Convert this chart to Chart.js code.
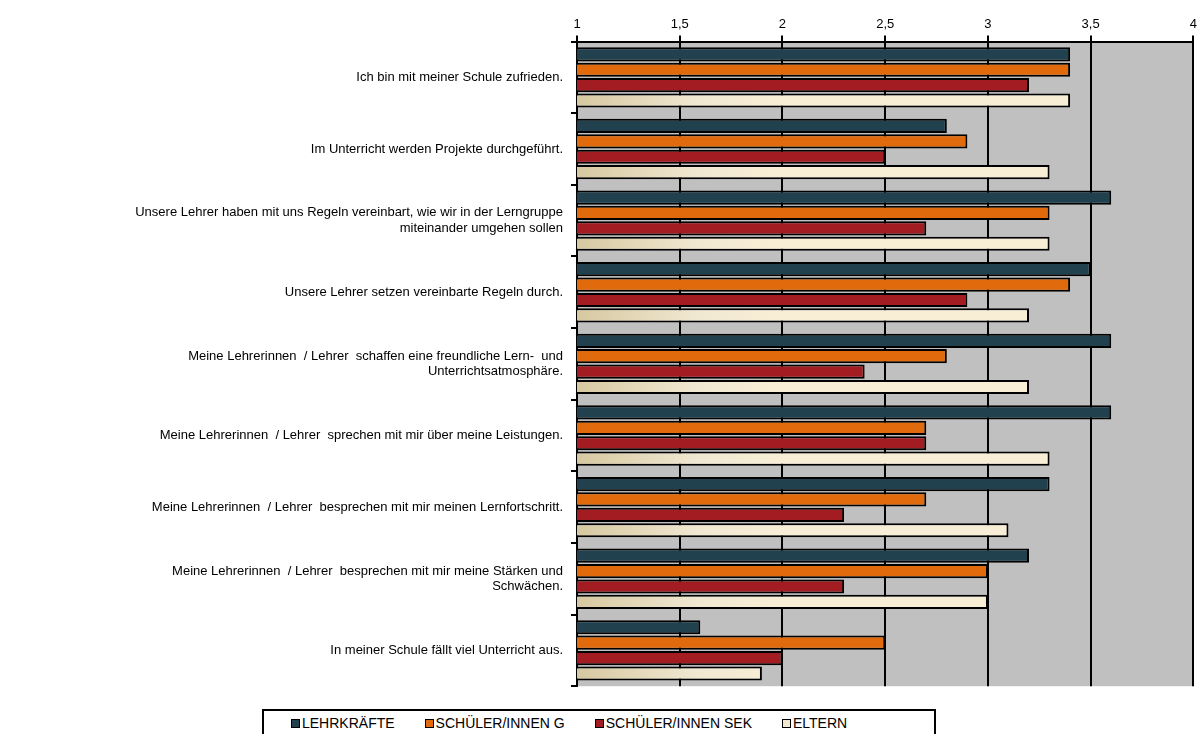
<!DOCTYPE html>
<html>
<head>
<meta charset="utf-8">
<script src="https://cdn.jsdelivr.net/npm/chart.js@4.4.0/dist/chart.umd.min.js"></script>
<style>
  body { margin: 0; background: #fff; font-family: "Liberation Sans", Arial, sans-serif; }
  #wrap { position: relative; width: 1200px; height: 702px; }
  #legend { position: absolute; left: 262px; top: 709px; width: 674px; height: 26px; border: 2px solid #000; border-bottom: none;
            box-sizing: border-box; font-size: 14px; color: #000; display: flex; align-items: center; padding-left: 27px; }
  #legend span { display: inline-flex; align-items: center; margin-right: 30px; }
  #legend i { display: inline-block; width: 7px; height: 7px; border: 1.5px solid #000; margin-right: 2px; }
</style>
</head>
<body>
<div id="wrap"><canvas id="chart"></canvas></div>
<div id="legend"></div>
<script>
const categories = [
  'Ich bin mit meiner Schule zufrieden.',
  'Im Unterricht werden Projekte durchgeführt.',
  ['Unsere Lehrer haben mit uns Regeln vereinbart, wie wir in der Lerngruppe', 'miteinander umgehen sollen'],
  'Unsere Lehrer setzen vereinbarte Regeln durch.',
  ['Meine Lehrerinnen  / Lehrer  schaffen eine freundliche Lern-  und', 'Unterrichtsatmosphäre.'],
  'Meine Lehrerinnen  / Lehrer  sprechen mit mir über meine Leistungen.',
  'Meine Lehrerinnen  / Lehrer  besprechen mit mir meinen Lernfortschritt.',
  ['Meine Lehrerinnen  / Lehrer  besprechen mit mir meine Stärken und', 'Schwächen.'],
  'In meiner Schule fällt viel Unterricht aus.'
];
const seriesNames = ['LEHRKRÄFTE', 'SCHÜLER/INNEN  G', 'SCHÜLER/INNEN  SEK', 'ELTERN'];
const lehrkraefte = [3.4, 2.8, 3.6, 3.5, 3.6, 3.6, 3.3, 3.2, 1.6];
const schuelerG   = [3.4, 2.9, 3.3, 3.4, 2.8, 2.7, 2.7, 3.0, 2.5];
const schuelerSek = [3.2, 2.5, 2.7, 2.9, 2.4, 2.7, 2.3, 2.3, 2.0];
const eltern      = [3.4, 3.3, 3.3, 3.2, 3.2, 3.3, 3.1, 3.0, 1.9];
const xTicks = [1, 1.5, 2, 2.5, 3, 3.5, 4];

const colors = ['#21414f', '#e06a0c', '#a31c22', '#f3e9cf'];

function creamGradient(ctx) {
  const area = ctx.chart.chartArea;
  if (!area) return colors[3];
  const g = ctx.chart.ctx.createLinearGradient(area.left, 0, area.left + 200, 0);
  g.addColorStop(0, '#d6c8a0');
  g.addColorStop(0.6, '#f1e8d2');
  g.addColorStop(1, '#f8eed6');
  return g;
}

const plotBg = {
  id: 'plotBg',
  beforeDraw(chart) {
    const a = chart.chartArea, c = chart.ctx;
    c.save();
    c.fillStyle = '#c0c0c0';
    c.fillRect(a.left, a.top, a.right - a.left, a.bottom - a.top);
    c.restore();
  }
};

const data = [lehrkraefte, schuelerG, schuelerSek, eltern];
new Chart(document.getElementById('chart'), {
  type: 'bar',
  data: {
    labels: categories,
    datasets: data.map((d, i) => ({
      label: seriesNames[i],
      data: d,
      backgroundColor: i === 3 ? creamGradient : colors[i],
      borderColor: '#000',
      borderWidth: 2,
      borderSkipped: false,
      categoryPercentage: 0.86,
      barPercentage: 0.92
    }))
  },
  options: {
    indexAxis: 'y',
    responsive: true,
    maintainAspectRatio: false,
    animation: false,
    layout: { padding: { top: 14, right: 4, bottom: 12 } },
    plugins: { legend: { display: false }, tooltip: { enabled: false } },
    scales: {
      x: {
        position: 'top',
        min: 1, max: 4,
        afterBuildTicks: s => { s.ticks = xTicks.map(v => ({ value: v })); },
        ticks: { color: '#000', font: { family: 'Liberation Sans', size: 13 },
                 callback: v => String(v).replace('.', ',') },
        grid: { color: '#000', lineWidth: 2, tickLength: 6 },
        border: { color: '#000', width: 2 }
      },
      y: {
        afterFit: s => { s.width = 577; },
        ticks: { color: '#000', font: { family: 'Liberation Sans', size: 13 }, padding: 8 },
        grid: { display: true, drawOnChartArea: false, color: '#000', lineWidth: 2, tickLength: 6, offset: true },
        border: { color: '#000', width: 2 }
      }
    }
  },
  plugins: [plotBg]
});

const legend = document.getElementById('legend');
seriesNames.forEach((n, i) => {
  const s = document.createElement('span');
  s.innerHTML = '<i style="background:' + colors[i] + '"></i>' + n;
  legend.appendChild(s);
});
</script>
</body>
</html>
